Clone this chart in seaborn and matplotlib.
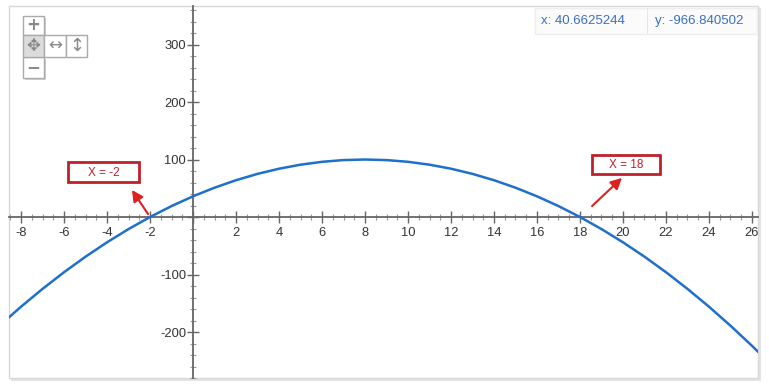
import matplotlib
matplotlib.use("Agg")
import matplotlib.pyplot as plt
from matplotlib.patches import Rectangle
from matplotlib.ticker import MultipleLocator, FuncFormatter
import seaborn as sns
import pandas as pd

# ---- data ----
x_vals = [-9, -8, -7, -6, -5, -4, -3, -2, -1, 0, 1, 2, 3, 4, 5, 6, 7, 8, 9,
          10, 11, 12, 13, 14, 15, 16, 17, 18, 19, 20, 21, 22, 23, 24, 25, 26, 27]
y_vals = [-189, -156, -125, -96, -69, -44, -21, 0, 19, 36, 51, 64, 75, 84, 91, 96, 99, 100, 99,
          96, 91, 84, 75, 64, 51, 36, 19, 0, -21, -44, -69, -96, -125, -156, -189, -224, -261]
root_labels = ["X = -2", "X = 18"]
root_x = [-2, 18]
coord_texts = ["x: 40.6625244", "y: -966.840502"]

sns.set_theme(style="white")
plt.rcParams['font.family'] = ['Liberation Sans', 'DejaVu Sans']

W, H = 769, 388
fig = plt.figure(figsize=(W / 100, H / 100), dpi=100)

# frame (plot area) in pixels
fx0, fx1, fy0, fy1 = 9, 758, 6, 378
ax = fig.add_axes([fx0 / W, 1 - fy1 / H, (fx1 - fx0) / W, (fy1 - fy0) / H])

df = pd.DataFrame({"x": x_vals, "y": y_vals})
sns.lineplot(data=df, x="x", y="y", ax=ax, color="#1f6fcc", linewidth=1.8,
             sort=False, estimator=None, zorder=3)

ax.set_xlim(-8.56, 26.28)
ax.set_ylim(-280, 367)
ax.set_xlabel("")
ax.set_ylabel("")

for s in ["top", "right"]:
    ax.spines[s].set_visible(False)
ax.spines["left"].set_position(("data", 0))
ax.spines["bottom"].set_position(("data", 0))
for s in ["left", "bottom"]:
    ax.spines[s].set_color("#666666")
    ax.spines[s].set_linewidth(1.3)

ax.xaxis.set_major_locator(MultipleLocator(2))
ax.xaxis.set_minor_locator(MultipleLocator(0.5))
ax.yaxis.set_major_locator(MultipleLocator(100))
ax.yaxis.set_minor_locator(MultipleLocator(20))
fmt = FuncFormatter(lambda v, p: "" if abs(v) < 1e-9 else f"{v:g}")
ax.xaxis.set_major_formatter(fmt)
ax.yaxis.set_major_formatter(fmt)
ax.tick_params(which="both", bottom=True, left=True, top=False, right=False)
ax.tick_params(which="major", direction="inout", length=8, width=1, color="#666666",
               labelsize=9.3, labelcolor="#333333")
ax.tick_params(which="minor", direction="inout", length=5, width=0.8, color="#999999")
ax.tick_params(axis="x", which="major", pad=3)
ax.tick_params(axis="y", which="major", pad=1)
ax.set_facecolor("white")
ax.patch.set_alpha(0)


def px_rect(x0, y0, x1, y1, **kw):
    r = Rectangle((x0 / W, 1 - y1 / H), (x1 - x0) / W, (y1 - y0) / H,
                  transform=fig.transFigure, **kw)
    fig.add_artist(r)
    return r


def px_text(x, y, s, **kw):
    fig.text(x / W, 1 - y / H, s, **kw)


# outer frame + shadow
px_rect(fx0 + 2, fy0 + 2, fx1 + 3, fy1 + 3, facecolor="#e4e4e4", edgecolor="none", zorder=-5)
px_rect(fx0, fy0, fx1, fy1, facecolor="white", edgecolor="#d8d8d8", linewidth=1, zorder=-4)

# annotations (boxes + arrows)
boxes = [(68, 162, 139, 182), (592, 155, 660, 174)]
heads = [(-2.84, 47), (19.95, 68)]
tails = [(-2.09, 5), (18.56, 19)]
for lab, (bx0, by0, bx1, by1), hd, tl in zip(root_labels, boxes, heads, tails):
    px_rect(bx0, by0, bx1, by1, facecolor="white", edgecolor="#c0202a", linewidth=2, zorder=6)
    px_text((bx0 + bx1) / 2, (by0 + by1) / 2 + 0.5, lab, ha="center", va="center",
            fontsize=8.5, color="#c0202a", zorder=7)
    ax.annotate("", xy=hd, xytext=tl, zorder=6,
                arrowprops=dict(arrowstyle="-|>,head_length=0.55,head_width=0.28",
                                color="#e0201f", lw=1.5, shrinkA=0, shrinkB=0))

# navigation controls (top-left)
ctrl_edge = "#aaaaaa"
px_rect(25, 18, 46, 37, facecolor="#d0d0d0", edgecolor="none", zorder=5)
px_rect(23, 16, 44, 35, facecolor="white", edgecolor=ctrl_edge, linewidth=1, zorder=6)
px_rect(25, 59, 46, 80, facecolor="#d0d0d0", edgecolor="none", zorder=5)
px_rect(23, 57, 44, 78, facecolor="white", edgecolor=ctrl_edge, linewidth=1, zorder=6)
px_rect(23, 35, 44, 57, facecolor="#dcdcdc", edgecolor=ctrl_edge, linewidth=1, zorder=6)
px_rect(44, 35, 66, 57, facecolor="white", edgecolor=ctrl_edge, linewidth=1, zorder=6)
px_rect(66, 35, 87, 57, facecolor="white", edgecolor=ctrl_edge, linewidth=1, zorder=6)
icon_kw = dict(ha="center", va="center", color="#888888", zorder=7,
               family=["DejaVu Sans"])
px_text(33.5, 25.5, "+", fontsize=12, fontweight="bold", **icon_kw)
px_text(33.5, 46, "✥", fontsize=12, **icon_kw)
px_text(55, 46, "↔", fontsize=12, **icon_kw)
px_text(76.5, 46, "↕", fontsize=13, **icon_kw)
px_text(33.5, 67.5, "−", fontsize=12, fontweight="bold", **icon_kw)

# coordinate readout (top-right)
px_rect(535, 8, 757, 34, facecolor="#fbfbfb", edgecolor="#eeeeee", linewidth=1, zorder=6)
px_rect(647, 8, 648, 34, facecolor="#e6e6e6", edgecolor="none", zorder=7)
px_text(541, 21, coord_texts[0], ha="left", va="center", fontsize=9.5,
        color="#3a6fc4", zorder=8)
px_text(655, 21, coord_texts[1], ha="left", va="center", fontsize=9.5,
        color="#3a6fc4", zorder=8)

fig.savefig("out.png", dpi=100, facecolor="white")
